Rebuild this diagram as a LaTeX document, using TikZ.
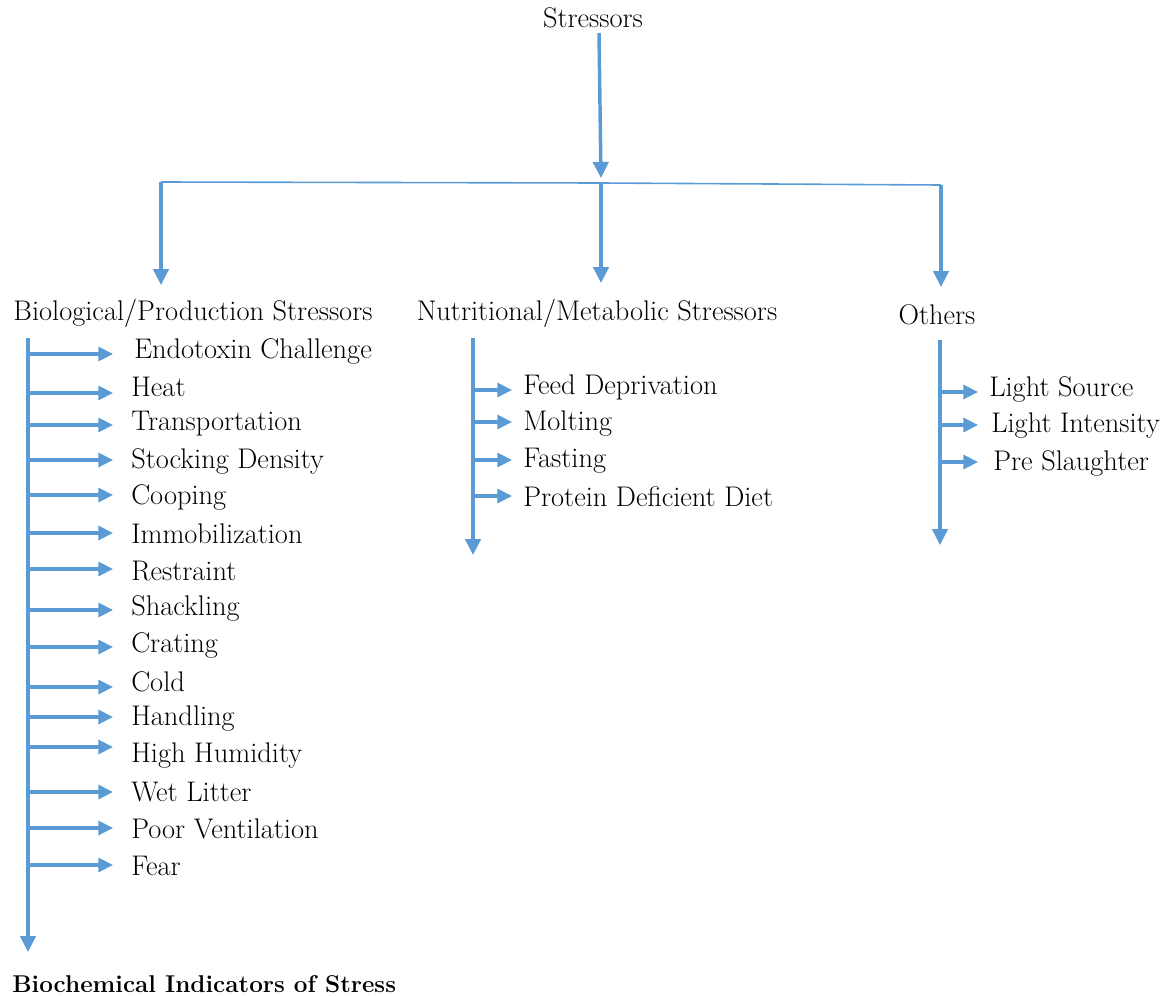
\documentclass[tikz,border=0pt]{standalone}
\usepackage{xcolor}
\usepackage{tikz}
\usetikzlibrary{arrows.meta,positioning,calc}
\definecolor{link}{HTML}{5B9BD5}

\begin{document}
\begin{tikzpicture}[x=0.75pt,y=-0.75pt,
  lbl/.style={font=\fontsize{21.3}{24}\selectfont,inner sep=0pt},
  item/.style={lbl,anchor=west},
  main/.style={-{Triangle[length=12pt,width=11.5pt]},line width=2.6pt,draw=link},
  sub/.style={-{Triangle[length=11pt,width=10.5pt]},line width=2.4pt,draw=link},
  bar/.style={line width=1.2pt,draw=link}]
\useasboundingbox (0,0) rectangle (1164,996);
% top level
\node[lbl] (top) at (593,18) {Stressors};
\coordinate (topfoot) at (599,33);
\coordinate (hub) at (601,183);
\coordinate (bl) at (161,182);
\coordinate (br) at (941,185);
\draw[main] (topfoot) -- ($(hub)+(0,-5)$);
\draw[bar] (bl) -- (hub) -- (br);
% the three groups
\node[lbl] (bio) at (193,313) {Biological/Production Stressors};
\node[lbl] (nut) at (597,313) {Nutritional/Metabolic Stressors};
\node[lbl] (oth) at (937,315) {Others};
\draw[main] (bl) -- ++(0,103);
\draw[main] (hub) -- ++(0,100);
\draw[main] (br) -- ++(0,102);
% spines
\coordinate (bspine) at (28,338);
\coordinate (nspine) at (473,338);
\coordinate (ospine) at (940,340);
\draw[main] (bspine) -- ++(0,614);
\draw[main] (nspine) -- ++(0,217);
\draw[main] (ospine) -- ++(0,205);
\node[lbl,anchor=west,font=\fontsize{18.2}{21}\selectfont\bfseries] (bci) at (12,984) {Biochemical Indicators of Stress};
% biological / production items
\foreach \tx/\ty/\ay/\txt [count=\i] in {
  134/351/354/Endotoxin Challenge, 131/387/393/Heat,
  131/424/425/Transportation, 131/461/460/Stocking Density,
  131/497/495/Cooping, 131/534/533/Immobilization,
  131/571/569/Restraint, 131/608/610/Shackling,
  131/645/647/Crating, 131/682/687/Cold,
  131/719/717/Handling, 131/756/747/High Humidity,
  131/792/792/Wet Litter, 131/829/828/Poor Ventilation,
  131/866/865/Fear}{
  \node[item] (b\i) at (\tx,\ty) {\txt};
  \coordinate (bs\i) at (28,\ay);
  \draw[sub] (bs\i) -- ++(85,0);
}
% nutritional / metabolic items
\foreach \ty/\ay/\txt [count=\i] in {
  387/390/Feed Deprivation, 424/422/Molting,
  461/460/Fasting, 497/496/Protein Deficient Diet}{
  \node[item] (n\i) at (523,\ty) {\txt};
  \coordinate (ns\i) at (473,\ay);
  \draw[sub] (ns\i) -- ++(39,0);
}
% others
\foreach \tx/\ty/\ay/\txt [count=\i] in {
  989/389/392/Light Source, 991/426/425/Light Intensity,
  993/463/462/Pre Slaughter}{
  \node[item] (o\i) at (\tx,\ty) {\txt};
  \coordinate (os\i) at (941,\ay);
  \draw[sub] (os\i) -- ++(37,0);
}
\end{tikzpicture}
\end{document}
